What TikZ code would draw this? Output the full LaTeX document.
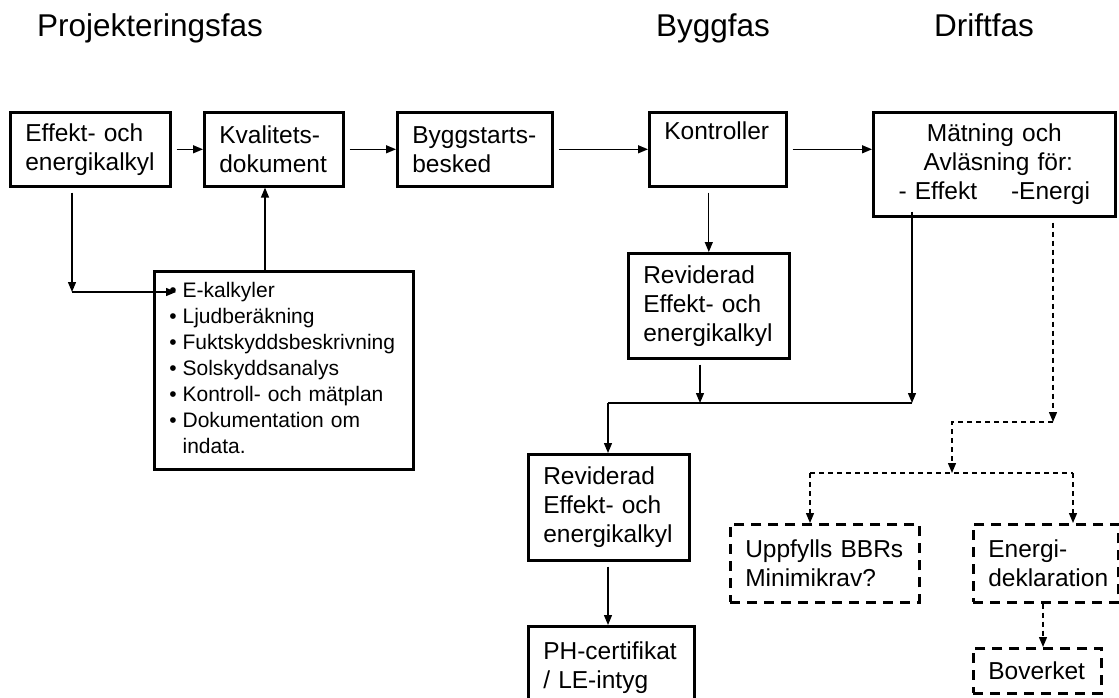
\documentclass[tikz,border=0pt]{standalone}
\usepackage{fontspec}
\setmainfont{Liberation Sans}
\usetikzlibrary{arrows.meta,calc}
\begin{document}
\begin{tikzpicture}[x=1pt,y=-1pt,
  boxbase/.style={line width=2.6pt, anchor=north west, inner ysep=0pt, inner xsep=15pt,
    font=\fontsize{24.5}{29}\selectfont, align=left},
  box/.style={boxbase, draw},
  dbox/.style={boxbase, draw, dash pattern=on 10pt off 7pt},
  listbox/.style={draw, line width=2.6pt, anchor=north west, inner ysep=0pt, inner xsep=0pt,
    font=\fontsize{21}{26}\selectfont, align=left},
  title/.style={font=\fontsize{31.5}{37}\selectfont, inner sep=0pt, anchor=base},
  conn/.style={line width=1.3pt, -{Triangle[length=10pt,width=8pt]}},
  plain/.style={line width=1.3pt},
  dconn/.style={line width=1.3pt, dash pattern=on 5pt off 4pt, -{Triangle[length=10pt,width=8pt]}},
  dplain/.style={line width=1.3pt, dash pattern=on 5pt off 4pt}
]
\useasboundingbox (0,0) rectangle (1119,698);
\clip (0,0) rectangle (1119,698);

% titles
\node[title] (t1) at (150,37) {Projekteringsfas};
\node[title] (t2) at (713,37) {Byggfas};
\node[title] (t3) at (984,37) {Driftfas};

% top row
\node[box, minimum width=160pt, minimum height=74pt, text width=130pt] (b1) at (9,111) {Effekt- och\\energikalkyl};
\node[box, minimum width=139pt, minimum height=74pt, text width=109pt] (b2) at (203,111) {Kvalitets-\\dokument};
\node[box, minimum width=155pt, minimum height=74pt, text width=125pt] (b3) at (396,111) {Byggstarts-\\besked};
\node[box, minimum width=137pt, minimum height=74pt, text width=107pt] (b4) at (648,111) {Kontroller\\\strut};
\node[box, minimum width=242pt, minimum height=104pt, text width=212pt, align=center] (b5) at (872,111)
  {Mätning och\\\ Avläsning för:\\- Effekt\hspace{34pt}-Energi\hspace{24pt}};

% list box
\node[listbox, minimum width=259pt, text width=259pt, minimum height=198pt] (list) at (153,270)
  {\begin{tabular}{@{\hspace{15pt}}l@{\hspace{6pt}}l@{}}
   \textbullet & E-kalkyler\\
   \textbullet & Ljudberäkning\\
   \textbullet & Fuktskyddsbeskrivning\\
   \textbullet & Solskyddsanalys\\
   \textbullet & Kontroll- och mätplan\\
   \textbullet & Dokumentation om\\
               & indata.
   \end{tabular}};

% revised boxes
\node[box, minimum width=161pt, minimum height=105pt, text width=131pt] (rA) at (627,252) {Reviderad\\Effekt- och\\energikalkyl};
\node[box, minimum width=161pt, minimum height=106pt, text width=131pt] (rB) at (527,453) {Reviderad\\Effekt- och\\energikalkyl};
\node[box, minimum width=166pt, minimum height=82pt, text width=136pt] (ph) at (527,625)
  {PH-certifikat\\/ LE-intyg};

% dashed boxes
\node[dbox, minimum width=189pt, minimum height=78pt, text width=159pt] (upp) at (729,523) {Uppfylls BBRs\\Minimikrav?};
\node[dbox, minimum width=145pt, minimum height=78pt, text width=115pt] (en) at (972,523) {Energi-\\deklaration};
\node[dbox, minimum width=128pt, minimum height=45pt, text width=98pt] (bov) at (972,647) {Boverket};

% top row connectors
\draw[conn, shorten <=5pt] (b1.east) -- (b2.west);
\draw[conn, shorten <=5pt] (b2.east) -- (b3.west);
\draw[conn, shorten <=5pt] (b3.east) -- (b4.west);
\draw[conn, shorten <=5pt] (b4.east) -- (b4.east -| b5.west);

% left loop
\coordinate (c1) at (72,292);
\coordinate (c2) at (176,292);
\coordinate (c3) at (265,0);
\draw[conn, shorten <=5pt] (b1.south -| c1) -- (c1);
\draw[conn] (c1) -- (c2);
\draw[conn] (list.north -| c3) -- (b2.south -| c3);

% build phase
\draw[conn, shorten <=5pt] (b4.south -| rA.north) -- (rA.north);
\coordinate (j1) at (700,403);
\coordinate (j2) at (912,403);
\coordinate (j3) at (608,403);
\draw[conn, shorten <=5pt] (rA.south -| j1) -- (j1);
\draw[conn, shorten <=-6pt] (b5.south -| j2) -- (j2);
\draw[plain] (j2) -- (j3);
\draw[conn] (j3) -- (rB.north -| j3);
\draw[conn, shorten <=5pt] (rB.south -| j3) -- (ph.north -| j3);

% operation phase (dashed)
\coordinate (d1) at (1053,422);
\coordinate (d2) at (952,473);
\coordinate (d3) at (810,473);
\coordinate (d4) at (1073,473);
\draw[dconn, shorten <=5pt] (b5.south -| d1) -- (d1);
\draw[dconn] (d1) -- (d1 -| d2) -- (d2);
\draw[dplain] (d3) -- (d4);
\draw[dconn] (d3) -- (upp.north -| d3);
\draw[dconn] (d4) -- (en.north -| d4);
\draw[dconn] (en.south -| 1043,0) -- (bov.north -| 1043,0);
\end{tikzpicture}
\end{document}
